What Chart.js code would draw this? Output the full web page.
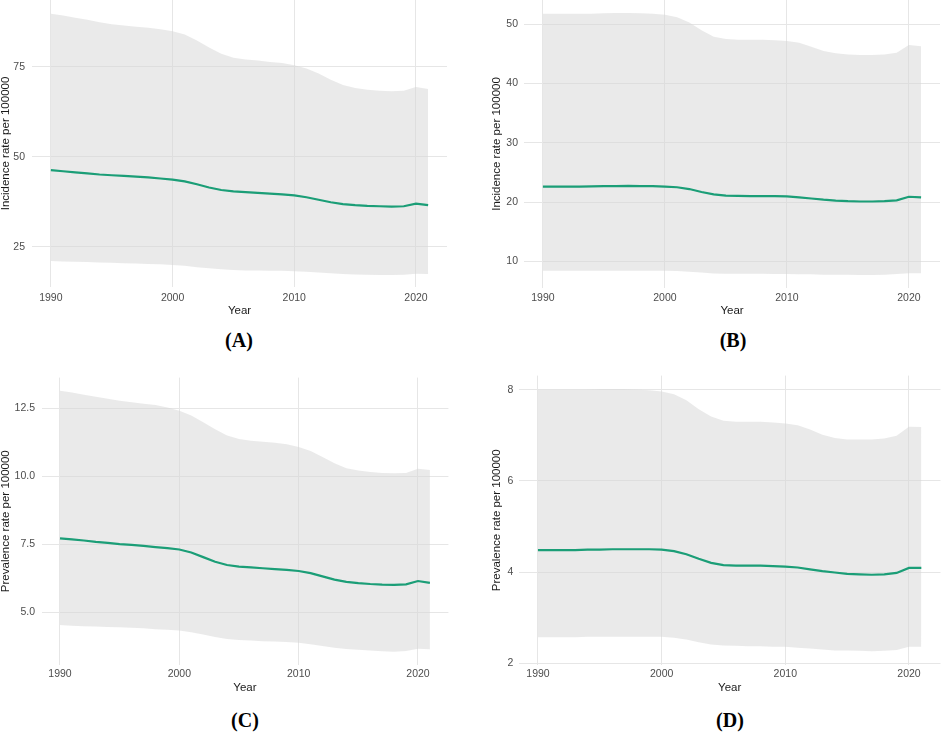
<!DOCTYPE html>
<html>
<head>
<meta charset="utf-8">
<script src="https://cdn.jsdelivr.net/npm/chart.js@4"></script>
<style>
  body { margin: 0; background: #fff; width: 941px; height: 732px; position: relative; overflow: hidden; }
  canvas { position: absolute; }
  .lbl { position: absolute; font: bold 20px "Liberation Serif", "Times New Roman", serif; color: #000; transform: translate(-50%, -50%); white-space: nowrap; }
</style>
</head>
<body>
<canvas id="cA"></canvas>
<canvas id="cB"></canvas>
<canvas id="cC"></canvas>
<canvas id="cD"></canvas>
<div class="lbl" style="left:239px;top:340px">(A)</div>
<div class="lbl" style="left:733px;top:340px">(B)</div>
<div class="lbl" style="left:245px;top:720px">(C)</div>
<div class="lbl" style="left:730px;top:720px">(D)</div>
<script>
const years = [1990, 1991, 1992, 1993, 1994, 1995, 1996, 1997, 1998, 1999, 2000, 2001, 2002, 2003, 2004, 2005,
  2006, 2007, 2008, 2009, 2010, 2011, 2012, 2013, 2014, 2015, 2016, 2017, 2018, 2019, 2020, 2021];
const yearTicks = [1990, 2000, 2010, 2020];

// (A) incidence, all ages
const meanA = [46.3, 46.0, 45.7, 45.4, 45.1, 44.9, 44.7, 44.5, 44.3, 44.0, 43.7, 43.2, 42.4, 41.5, 40.8, 40.4,
  40.2, 40.0, 39.8, 39.6, 39.3, 38.8, 38.1, 37.4, 36.9, 36.6, 36.4, 36.3, 36.2, 36.3, 37.0, 36.6];
const upperA = [89.7, 89.2, 88.6, 88.0, 87.3, 86.8, 86.4, 86.1, 85.8, 85.4, 84.8, 83.9, 82.3, 80.3, 78.6, 77.5,
  77.0, 76.7, 76.3, 76.0, 75.4, 74.5, 73.1, 71.4, 69.9, 69.1, 68.6, 68.3, 68.2, 68.3, 69.4, 68.8];
const lowerA = [21.1, 21.0, 20.9, 20.8, 20.7, 20.6, 20.5, 20.4, 20.3, 20.2, 20.0, 19.8, 19.4, 19.1, 18.8, 18.6,
  18.5, 18.5, 18.4, 18.4, 18.3, 18.1, 17.9, 17.7, 17.5, 17.4, 17.3, 17.25, 17.2, 17.3, 17.6, 17.5];
const ticksA = [25, 50, 75];

// (B) incidence
const meanB = [22.6, 22.6, 22.6, 22.6, 22.65, 22.7, 22.7, 22.75, 22.7, 22.7, 22.6, 22.5, 22.2, 21.7, 21.3, 21.1,
  21.05, 21.0, 21.0, 21.0, 20.95, 20.8, 20.6, 20.4, 20.25, 20.15, 20.1, 20.1, 20.15, 20.3, 20.9, 20.8];
const upperB = [51.8, 51.8, 51.8, 51.8, 51.8, 51.85, 51.9, 51.9, 51.85, 51.8, 51.6, 51.2, 50.3, 49.0, 47.9, 47.5,
  47.4, 47.4, 47.4, 47.3, 47.2, 46.9, 46.2, 45.5, 45.1, 44.9, 44.8, 44.8, 44.9, 45.2, 46.5, 46.3];
const lowerB = [8.4, 8.4, 8.4, 8.4, 8.4, 8.4, 8.4, 8.4, 8.4, 8.4, 8.4, 8.35, 8.25, 8.1, 7.95, 7.9,
  7.9, 7.9, 7.9, 7.85, 7.85, 7.8, 7.8, 7.75, 7.75, 7.75, 7.7, 7.7, 7.75, 7.85, 8.0, 8.0];
const ticksB = [10, 20, 30, 40, 50];

// (C) prevalence
const meanC = [7.72, 7.68, 7.64, 7.59, 7.55, 7.51, 7.48, 7.44, 7.40, 7.36, 7.31, 7.20, 7.03, 6.86, 6.74, 6.68,
  6.65, 6.62, 6.59, 6.56, 6.52, 6.44, 6.32, 6.20, 6.12, 6.07, 6.04, 6.02, 6.01, 6.03, 6.15, 6.08];
const upperC = [13.15, 13.08, 13.00, 12.93, 12.85, 12.78, 12.72, 12.67, 12.62, 12.53, 12.41, 12.24, 11.99, 11.73, 11.50, 11.37,
  11.31, 11.27, 11.23, 11.18, 11.08, 10.93, 10.71, 10.48, 10.30, 10.21, 10.16, 10.12, 10.11, 10.12, 10.28, 10.23];
const lowerC = [4.53, 4.51, 4.49, 4.48, 4.46, 4.45, 4.43, 4.41, 4.38, 4.36, 4.33, 4.27, 4.18, 4.09, 4.02, 3.98,
  3.96, 3.94, 3.93, 3.91, 3.88, 3.83, 3.76, 3.70, 3.65, 3.62, 3.60, 3.57, 3.55, 3.58, 3.66, 3.64];
const ticksC = [5, 7.5, 10, 12.5];

// (D) prevalence
const meanD = [4.48, 4.48, 4.48, 4.48, 4.49, 4.49, 4.50, 4.50, 4.50, 4.50, 4.49, 4.46, 4.39, 4.29, 4.20, 4.15,
  4.14, 4.14, 4.14, 4.13, 4.12, 4.10, 4.06, 4.02, 3.99, 3.96, 3.95, 3.94, 3.95, 3.98, 4.09, 4.09];
const upperD = [8.00, 8.00, 8.00, 8.00, 8.00, 8.01, 8.01, 8.01, 8.00, 7.99, 7.96, 7.90, 7.77, 7.57, 7.41, 7.32,
  7.30, 7.30, 7.30, 7.28, 7.26, 7.22, 7.13, 7.01, 6.94, 6.91, 6.91, 6.91, 6.93, 6.99, 7.19, 7.18];
const lowerD = [2.57, 2.57, 2.57, 2.57, 2.58, 2.58, 2.58, 2.58, 2.58, 2.58, 2.58, 2.56, 2.52, 2.46, 2.41, 2.39,
  2.38, 2.37, 2.37, 2.36, 2.36, 2.34, 2.32, 2.30, 2.28, 2.28, 2.27, 2.26, 2.27, 2.29, 2.36, 2.36];
const ticksD = [2, 4, 6, 8];

const FONT = '"Liberation Sans", Arial, sans-serif';
const GREEN = '#1b9e77';

function pts(vals) {
  return years.map((y, i) => ({ x: y, y: vals[i] }));
}

// box = canvas rect on page, area = plot rect on page
function makePanel(id, box, area, yRange, yTicks, fmt, yTitle, mean, upper, lower) {
  const cv = document.getElementById(id);
  cv.style.left = box.left + 'px';
  cv.style.top = box.top + 'px';
  cv.width = box.width;
  cv.height = box.height;

  const yAxisW = area.left - box.left;
  const xAxisH = box.top + box.height - area.bottom;

  new Chart(cv.getContext('2d'), {
    type: 'line',
    data: {
      datasets: [
        { data: pts(mean), borderColor: GREEN, borderWidth: 2.2, pointRadius: 0, fill: false, tension: 0, order: 0 },
        { data: pts(upper), borderWidth: 0, borderColor: 'rgba(0,0,0,0)', pointRadius: 0, tension: 0,
          backgroundColor: 'rgba(214,214,214,0.5)', fill: '+1', order: 1 },
        { data: pts(lower), borderWidth: 0, borderColor: 'rgba(0,0,0,0)', pointRadius: 0, tension: 0, fill: false, order: 2 }
      ]
    },
    options: {
      responsive: false,
      animation: false,
      layout: { padding: { left: 0, top: area.top - box.top, right: box.left + box.width - area.right, bottom: 0 } },
      plugins: { legend: { display: false }, tooltip: { enabled: false } },
      scales: {
        x: {
          type: 'linear', min: 1988.45, max: 2022.55,
          afterBuildTicks: s => { s.ticks = yearTicks.map(v => ({ value: v })); },
          afterFit: s => { s.height = xAxisH; s.paddingLeft = 0; s.paddingRight = 0; },
          grid: { color: '#e6e6e6', lineWidth: 1, drawTicks: false },
          border: { display: false },
          ticks: { autoSkip: false, maxRotation: 0, padding: area.tickPadX, color: '#4d4d4d',
            font: { family: FONT, size: 10.5, lineHeight: 1.2 }, callback: v => String(v) },
          title: { display: true, text: 'Year', color: '#1a1a1a', padding: 0,
            font: { family: FONT, size: 11.5, lineHeight: 1.2 } }
        },
        y: {
          min: yRange[0], max: yRange[1],
          afterBuildTicks: s => { s.ticks = yTicks.map(v => ({ value: v })); },
          afterFit: s => { s.width = yAxisW; s.paddingTop = 0; s.paddingBottom = 0; },
          grid: { color: '#e6e6e6', lineWidth: 1, drawTicks: false },
          border: { display: false },
          ticks: { autoSkip: false, padding: area.tickPadY, color: '#4d4d4d',
            font: { family: FONT, size: 10.5, lineHeight: 1.2 }, callback: fmt },
          title: { display: true, text: yTitle, color: '#1a1a1a', padding: 0,
            font: { family: FONT, size: 11.5, lineHeight: 1.2 } }
        }
      }
    }
  });
}

const plain = v => String(v);
const oneDec = v => v.toFixed(1);

makePanel('cA', { left: -1, top: 0, width: 471, height: 318 },
  { left: 32, right: 447, top: 0, bottom: 287, tickPadX: 4.7, tickPadY: 7 },
  [13.9, 93.5], ticksA, plain, 'Incidence rate per 100000', meanA, upperA, lowerA);

makePanel('cB', { left: 490, top: 0, width: 451, height: 318 },
  { left: 524, right: 940, top: 0, bottom: 288, tickPadX: 4, tickPadY: 6 },
  [5.5, 54.1], ticksB, plain, 'Incidence rate per 100000', meanB, upperB, lowerB);

makePanel('cC', { left: -1, top: 370, width: 471, height: 325 },
  { left: 41.5, right: 448.4, top: 377.6, bottom: 664.8, tickPadX: 3, tickPadY: 6.5 },
  [3.07, 13.63], ticksC, oneDec, 'Prevalence rate per 100000', meanC, upperC, lowerC);

makePanel('cD', { left: 490, top: 370, width: 451, height: 325 },
  { left: 518.8, right: 940.5, top: 375.6, bottom: 665, tickPadX: 3, tickPadY: 5.5 },
  [1.96, 8.31], ticksD, plain, 'Prevalence rate per 100000', meanD, upperD, lowerD);
</script>
</body>
</html>
